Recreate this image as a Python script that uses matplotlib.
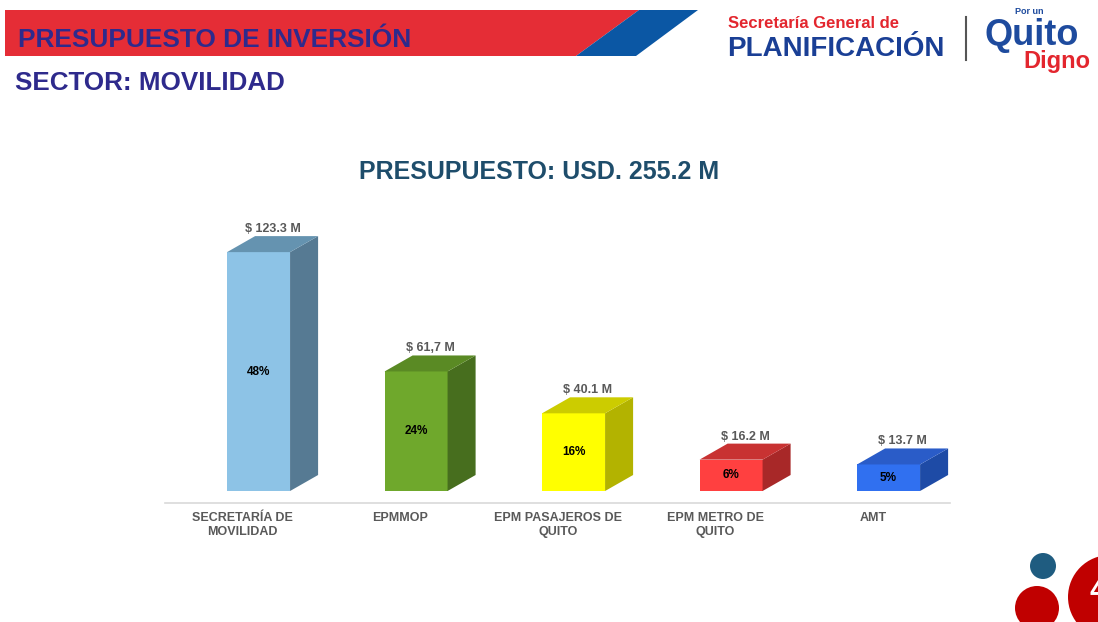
import matplotlib.pyplot as plt
from matplotlib.patches import Polygon, Circle

plt.rcParams['font.family'] = ['Liberation Sans', 'DejaVu Sans']
plt.rcParams['font.weight'] = 'bold'

# ─── Data ─────────────────────────────────────────────────────────────────────
categories = ["SECRETARÍA DE\nMOVILIDAD", "EPMMOP", "EPM PASAJEROS DE\nQUITO",
              "EPM METRO DE\nQUITO", "AMT"]
values = [123.3, 61.7, 40.1, 16.2, 13.7]
value_labels = ["$ 123.3 M", "$ 61,7 M", "$ 40.1 M", "$ 16.2 M", "$ 13.7 M"]
pct_labels = ["48%", "24%", "16%", "6%", "5%"]
title = "PRESUPUESTO: USD. 255.2 M"

front_colors = ["#8DC3E6", "#6FA82C", "#FFFF00", "#FF4040", "#3070F0"]
side_colors = ["#567A93", "#476E1E", "#B3B300", "#A82828", "#1E4BA6"]
top_colors = ["#6593B0", "#5A8A24", "#CCCC00", "#C83232", "#2A5CC8"]

W, H = 1098, 622
fig = plt.figure(figsize=(W / 100, H / 100), dpi=100)

# ─── Header / decorations (pixel coords) ──────────────────────────────────────
bg = fig.add_axes([0, 0, 1, 1])
bg.set_xlim(0, W)
bg.set_ylim(H, 0)
bg.axis("off")

bg.add_patch(Polygon([(5, 10), (639, 10), (576, 56), (5, 56)], color="#E52D36", lw=0))
bg.add_patch(Polygon([(639, 10), (698, 10), (636, 56), (576, 56)], color="#0B57A4", lw=0))
bg.text(18, 40, "PRESUPUESTO DE INVERSIÓN", color="#2E2A8C", fontsize=18.9,
        ha="left", va="center")
bg.text(15, 83, "SECTOR: MOVILIDAD", color="#2E2A8C", fontsize=18.7,
        ha="left", va="center")

bg.text(728, 28, "Secretaría General de", color="#E3262E", fontsize=12,
        ha="left", va="baseline")
bg.text(727, 56, "PLANIFICACIÓN", color="#1A3F95", fontsize=20,
        ha="left", va="baseline")
bg.plot([966, 966], [17, 60], color="#555555", lw=1.5)
bg.text(1015, 14, "Por un", color="#1E4B9E", fontsize=6.5, ha="left", va="baseline")
bg.text(984, 45, "Quito", color="#1E4B9E", fontsize=26, ha="left", va="baseline")
bg.text(1090, 68, "Digno", color="#E3262E", fontsize=17, ha="right", va="baseline")

bg.add_patch(Circle((1043, 566), 13, color="#1F5C80", lw=0))
bg.add_patch(Circle((1037, 608), 22, color="#C00000", lw=0))
bg.add_patch(Circle((1110, 597), 42, color="#C00000", lw=0))
bg.text(1090, 592, "4", color="white", fontsize=22, ha="left", va="center")

# ─── Chart ────────────────────────────────────────────────────────────────────
ax = fig.add_axes([165 / W, (H - 503) / H, 785 / W, (503 - 200) / H])
ax.set_xlim(-0.594, 4.390)
ax.set_ylim(-6.19, 150.2)
ax.patch.set_alpha(0)

bw = 0.4
dx, dy = 0.178, 8.26
xs = list(range(len(values)))

ax.bar(xs, values, width=bw, color=front_colors, linewidth=0, zorder=3)
for i, v in enumerate(values):
    xr = i + bw / 2
    xl = i - bw / 2
    ax.add_patch(Polygon([(xr, 0), (xr + dx, dy), (xr + dx, v + dy), (xr, v)],
                         color=side_colors[i], lw=0, zorder=3))
    ax.add_patch(Polygon([(xl, v), (xr, v), (xr + dx, v + dy), (xl + dx, v + dy)],
                         color=top_colors[i], lw=0, zorder=3))
    ax.annotate(value_labels[i], (i + dx / 2, v + dy), xytext=(0, 1),
                textcoords="offset pixels", ha="center", va="bottom",
                fontsize=9, color="#595959")
    ax.text(i, v / 2, pct_labels[i], ha="center", va="center",
            fontsize=8.5, color="black", zorder=4)
    ax.annotate(categories[i], (i - 0.1, -6.19), xytext=(0, -9),
                textcoords="offset pixels", ha="center", va="top",
                fontsize=9, color="#595959", linespacing=1.25)

for s in ["top", "left", "right"]:
    ax.spines[s].set_visible(False)
ax.spines["bottom"].set_color("#D9D9D9")
ax.spines["bottom"].set_linewidth(1.2)
ax.set_xticks([])
ax.set_yticks([])

fig.text(539 / W, 1 - 172 / H, title, color="#1E4D6B", fontsize=18,
         ha="center", va="center")

fig.savefig("out.png", dpi=100)
